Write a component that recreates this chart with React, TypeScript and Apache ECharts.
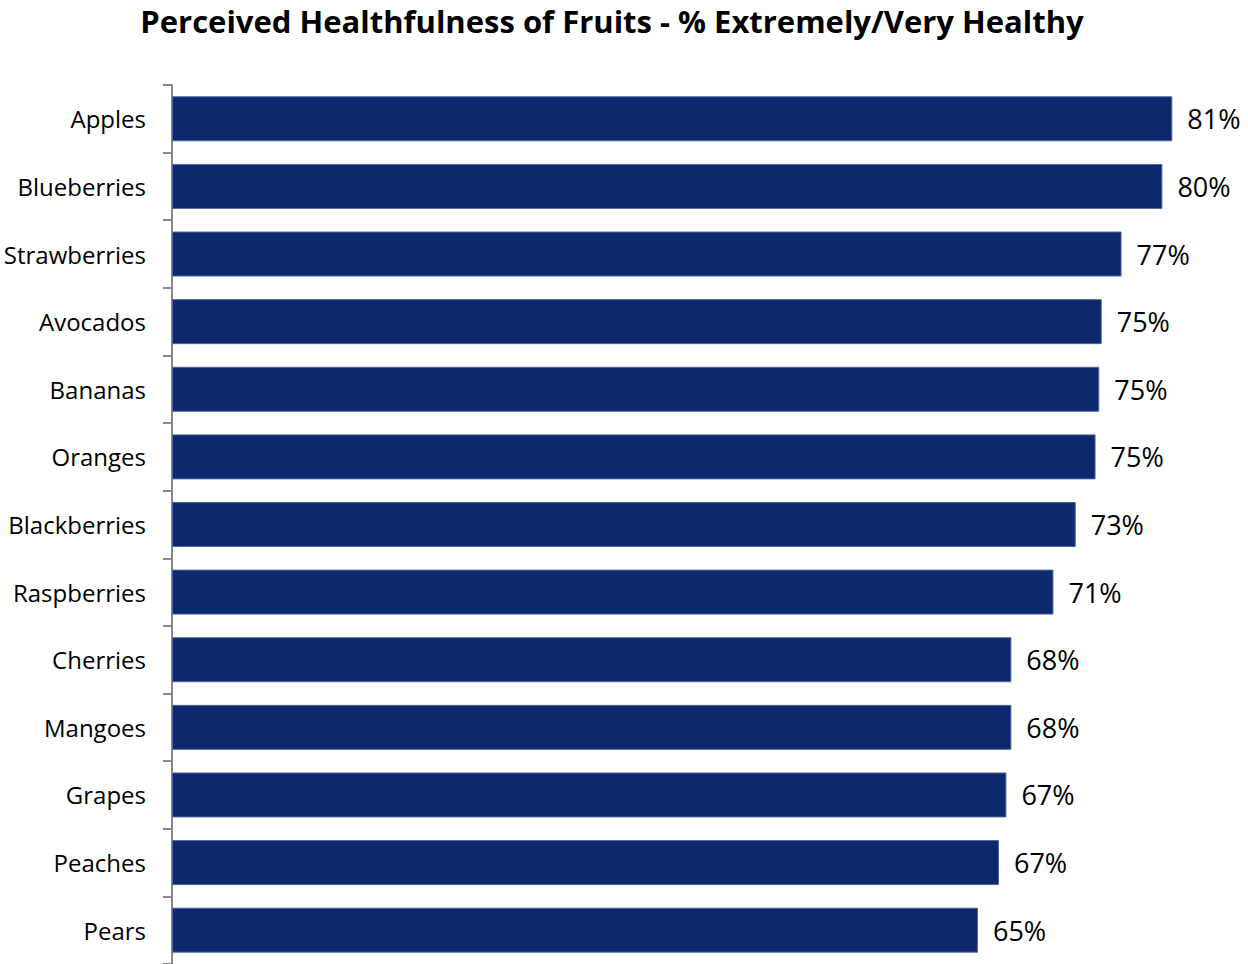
import React, { useEffect, useRef } from "react";
import * as echarts from "echarts";

const titleText = "Perceived Healthfulness of Fruits - % Extremely/Very Healthy";
const fruits = [
  "Apples",
  "Blueberries",
  "Strawberries",
  "Avocados",
  "Bananas",
  "Oranges",
  "Blackberries",
  "Raspberries",
  "Cherries",
  "Mangoes",
  "Grapes",
  "Peaches",
  "Pears",
];
const healthyPct = [80.8, 80.0, 76.7, 75.1, 74.9, 74.6, 73.0, 71.2, 67.8, 67.8, 67.4, 66.8, 65.1];

export default function App() {
  const ref = useRef<HTMLDivElement>(null);
  useEffect(() => {
    if (!ref.current) return;
    const chart = echarts.init(ref.current, undefined, { renderer: "svg" });
    chart.setOption({
      animation: false,
      backgroundColor: "#ffffff",
      title: {
        text: titleText,
        left: 612,
        textAlign: "center",
        top: 0,
        padding: 0,
        textStyle: {
          fontFamily: "Open Sans",
          fontWeight: 700,
          fontSize: 31,
          lineHeight: 42,
          color: "#000000",
        },
      },
      grid: { left: 172, top: 85, width: 1052.3, height: 879, containLabel: false },
      xAxis: {
        type: "value",
        min: 0,
        max: 85,
        show: false,
      },
      yAxis: {
        type: "category",
        data: fruits,
        inverse: true,
        axisLine: { show: true, lineStyle: { color: "#888888", width: 2 } },
        axisTick: { show: true, length: 9, interval: 0, lineStyle: { color: "#888888", width: 2 } },
        axisLabel: {
          margin: 26,
          fontFamily: "Open Sans",
          fontSize: 24,
          color: "#000000",
        },
        splitLine: { show: false },
      },
      series: [
        {
          type: "bar",
          data: healthyPct,
          barWidth: 45,
          itemStyle: { color: "#0b296c", borderColor: "#4f67a0", borderWidth: 1 },
          label: {
            show: true,
            position: "right",
            distance: 15,
            fontFamily: "Open Sans",
            fontSize: 27,
            color: "#000000",
            formatter: (p: any) => Math.round(p.value) + "%",
          },
        },
      ],
    });
    return () => chart.dispose();
  }, []);
  return (
    <div
      ref={ref}
      style={{ position: "fixed", left: 0, top: 0, width: 1248, height: 964 }}
    />
  );
}
